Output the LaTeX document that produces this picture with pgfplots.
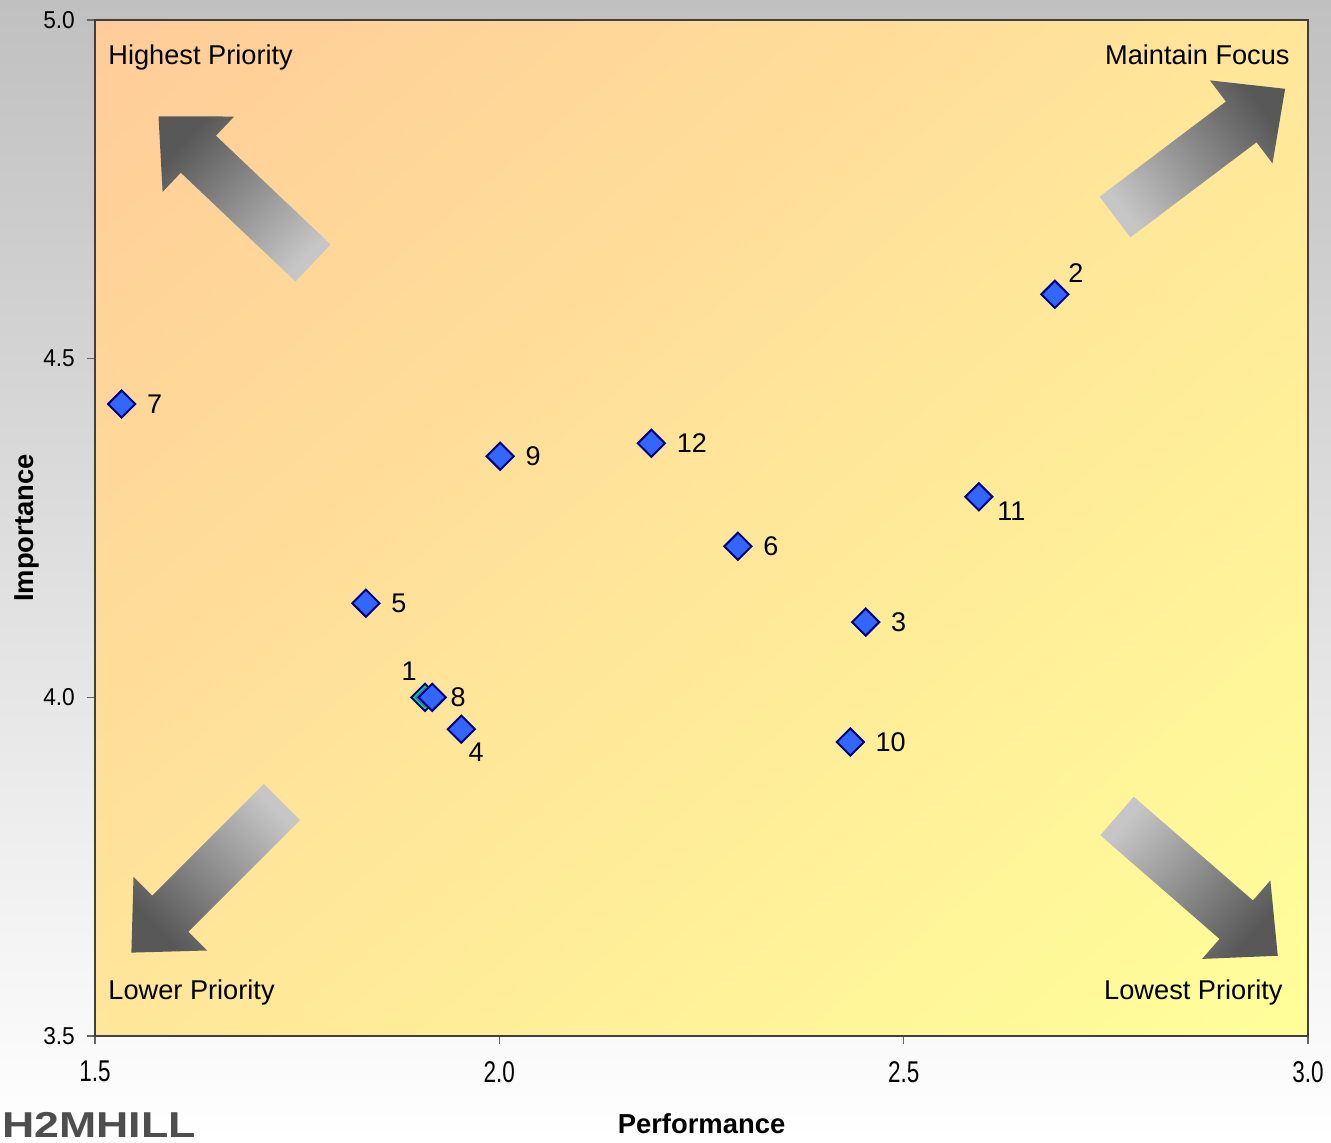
\documentclass[border=0pt]{standalone}
\usepackage{pgfplots}
\pgfplotsset{compat=1.18}
\usepackage{pgfplotstable}
\usepackage{fontspec}
\setmainfont{Liberation Sans}
\usetikzlibrary{calc,shadings}

\definecolor{plotpeach}{RGB}{255,204,153}
\definecolor{plotmid}{RGB}{255,230,153}
\definecolor{plotyellow}{RGB}{255,255,153}
\definecolor{framegray}{RGB}{192,192,192}
\definecolor{arrowlight}{RGB}{198,198,198}
\definecolor{arrowdark}{RGB}{88,88,88}
\definecolor{markblue}{RGB}{51,102,255}
\definecolor{marknavy}{RGB}{0,0,128}
\definecolor{markgreen}{RGB}{0,230,40}
\definecolor{logogray}{RGB}{78,78,78}

% performance and importance of each item; labels to the right
\pgfplotstableread{
x      y      lbl
1.835  4.139  5
1.533  4.433  7
2.001  4.356  9
2.188  4.375  12
2.295  4.223  6
2.453  4.111  3
2.434  3.934  10
}\rightlab

\pgfplotstableread{
x      y      lbl
1.917  4.000  8
}\eightlab

% labels below right
\pgfplotstableread{
x      y      lbl
1.953  3.953  4
}\fourlab
\pgfplotstableread{
x      y      lbl
2.593  4.296  11
}\elevenlab

% label above right
\pgfplotstableread{
x      y      lbl
2.687  4.595  2
}\twolab

% label above left
\pgfplotstableread{
x      y      lbl
1.908  4.000  1
}\onelab

% block arrow: tail (image px), direction in degrees
\newcommand\blockarrow[3]{%
  \coordinate (T) at ({#1*0.5pt},{(1142-#2)*0.5pt});
  \shade[top color=arrowdark, bottom color=arrowlight, shading angle={#3-90}]
    ($(T)+(#3+90:12.75pt)$)
    -- ($(T)+(#3:79pt)+(#3+90:12.75pt)$)
    -- ($(T)+(#3:79pt)+(#3+90:26pt)$)
    -- ($(T)+(#3:106.5pt)$)
    -- ($(T)+(#3:79pt)+(#3-90:26pt)$)
    -- ($(T)+(#3:79pt)+(#3-90:12.75pt)$)
    -- ($(T)+(#3-90:12.75pt)$) -- cycle;}

\pgfplotsset{
  diamonds/.style={only marks, mark=square*, mark size=4.8pt,
    mark options={rotate=45, fill=markblue, draw=marknavy, line width=1pt}},
  item labels/.style={only marks, mark=none, nodes near coords,
    point meta=explicit symbolic,
    every node near coord/.style={inner sep=0pt, text=black,
      font=\fontsize{13.5}{16}\selectfont, #1}},
}

\begin{document}
\begin{tikzpicture}
\useasboundingbox (0,0) rectangle (665.5pt,571pt);
\clip (0,0) rectangle (665.5pt,571pt);
\shade[top color=framegray, bottom color=white] (0,0) rectangle (665.5pt,571pt);

\begin{axis}[
  at={(47.5pt,53pt)}, anchor=south west,
  scale only axis, width=606.5pt, height=508pt,
  xmin=1.5, xmax=3.0, ymin=3.5, ymax=5.0,
  xtick={1.5,2.0,2.5,3.0}, ytick={3.5,4.0,4.5,5.0},
  tick pos=left,
  tick align=outside, major tick length=4pt,
  tick style={black!60, line width=0.7pt},
  axis line style={black!75, line width=0.8pt},
  /pgf/number format/fixed, /pgf/number format/fixed zerofill,
  /pgf/number format/precision=1,
  /pgf/number format/assume math mode=true,
  xticklabel style={font=\fontsize{15}{18}\selectfont, xscale=0.75, yshift=-5pt},
  yticklabel style={font=\fontsize{12.2}{14}\selectfont, xscale=0.93, xshift=-3pt},
  xlabel={Performance}, ylabel={Importance},
  label style={font=\bfseries\fontsize{13.7}{16}\selectfont},
  xlabel style={at={(axis description cs:0.5,-0.0866)}, anchor=center},
  ylabel style={at={(axis description cs:-0.056,0.5)}, anchor=center},
  axis background/.style={shade, upper left=plotpeach, upper right=plotmid,
    lower left=plotmid, lower right=plotyellow},
  clip=false,
]
\node[anchor=base west, inner sep=0pt, font=\fontsize{13.6}{16}\selectfont]
  at (rel axis cs:0,1) [xshift=6.5pt, yshift=-22.5pt] {Highest Priority};
\node[anchor=base east, inner sep=0pt, font=\fontsize{13.6}{16}\selectfont]
  at (rel axis cs:1,1) [xshift=-9pt, yshift=-22.5pt] {Maintain Focus};
\node[anchor=base west, inner sep=0pt, font=\fontsize{13.6}{16}\selectfont]
  at (rel axis cs:0,0) [xshift=6.5pt, yshift=18.5pt] {Lower Priority};
\node[anchor=base east, inner sep=0pt, font=\fontsize{13.6}{16}\selectfont]
  at (rel axis cs:1,0) [xshift=-12.5pt, yshift=18.5pt] {Lowest Priority};

% item 1 sits just behind item 8
\addplot[diamonds] table[x=x, y=y] {\onelab};
\addplot[only marks, mark=square*, mark size=3.9pt,
  mark options={rotate=45, fill=markblue, draw=markgreen, line width=0.6pt}]
  table[x=x, y=y] {\onelab};
\addplot[diamonds] table[x=x, y=y] {\eightlab};
\addplot[diamonds] table[x=x, y=y] {\fourlab};
\addplot[diamonds] table[x=x, y=y] {\rightlab};
\addplot[diamonds] table[x=x, y=y] {\elevenlab};
\addplot[diamonds] table[x=x, y=y] {\twolab};

% item numbers
\addplot[item labels={anchor=west, xshift=12.5pt}]
  table[x=x, y=y, meta=lbl] {\rightlab};
\addplot[item labels={anchor=west, xshift=9pt}]
  table[x=x, y=y, meta=lbl] {\eightlab};
\addplot[item labels={anchor=north west, xshift=3.5pt, yshift=-6.5pt}]
  table[x=x, y=y, meta=lbl] {\fourlab};
\addplot[item labels={anchor=north west, xshift=9pt, yshift=-2.5pt}]
  table[x=x, y=y, meta=lbl] {\elevenlab};
\addplot[item labels={anchor=south west, xshift=6.5pt, yshift=5.5pt}]
  table[x=x, y=y, meta=lbl] {\twolab};
\addplot[item labels={anchor=south east, xshift=-4pt, yshift=8pt}]
  table[x=x, y=y, meta=lbl] {\onelab};
\end{axis}

\blockarrow{313}{263}{136.5}
\blockarrow{1115}{217}{37}
\blockarrow{282}{802}{225}
\blockarrow{1117}{816}{-41}

% company mark, lower left corner
\node[anchor=base west, inner sep=0pt, text=logogray,
  font=\bfseries\fontsize{18}{20}\selectfont, xscale=1.24]
  at (1pt,2.5pt) {H2MHILL};
\end{tikzpicture}
\end{document}
